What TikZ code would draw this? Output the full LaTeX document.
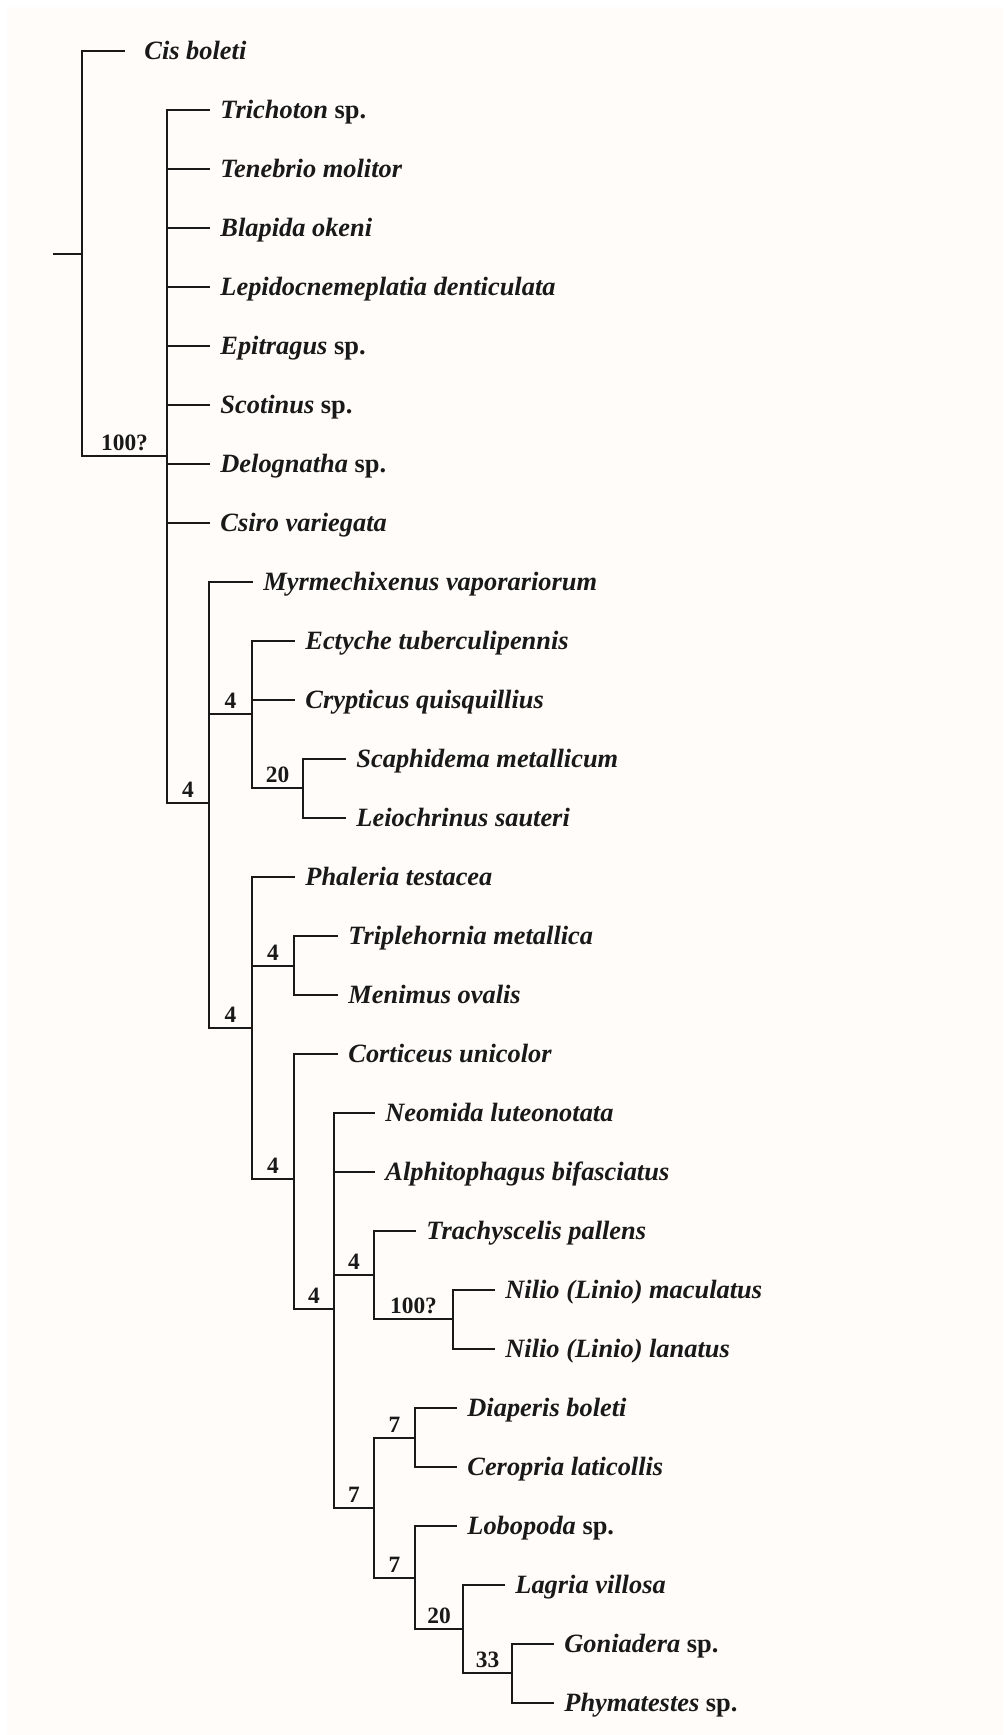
\documentclass[tikz,border=0pt]{standalone}
\usepackage{fontspec}
\setmainfont{Liberation Serif}
\usetikzlibrary{calc}
\definecolor{bg}{RGB}{255,252,249}
\definecolor{ink}{RGB}{25,25,25}
\begin{document}
\begin{tikzpicture}[x=0.5pt,y=-0.5pt,
  br/.style={draw=ink,line width=0.8pt,line cap=rect},
  taxon/.style={anchor=base west,inner sep=0pt,font=\fontsize{13.2pt}{15pt}\selectfont\bfseries\itshape,text=ink},
  blabel/.style={anchor=base,inner sep=0pt,font=\fontsize{11.7pt}{13pt}\selectfont\bfseries,text=ink}]
\fill[white] (0,0) rectangle (1003,1735);
\fill[bg] (7,7) rectangle (1003,1735);
\useasboundingbox (0,0) rectangle (1003,1735);
% internal nodes
\coordinate (r) at (54,254);
\coordinate (n0) at (82,254);
\coordinate (n1) at (167,456);
\coordinate (n2) at (209,803);
\coordinate (n3) at (252,714);
\coordinate (n4) at (303,788);
\coordinate (n5) at (252,1028);
\coordinate (n6) at (294,966);
\coordinate (n7) at (294,1179);
\coordinate (n8) at (334,1309);
\coordinate (n9) at (374,1275);
\coordinate (n10) at (453,1319);
\coordinate (n11) at (374,1508);
\coordinate (n12) at (415,1438);
\coordinate (n13) at (415,1578);
\coordinate (n14) at (463,1629);
\coordinate (n15) at (512,1673);
% leaf tips
\coordinate (l0) at (124,51);
\coordinate (l1) at (209,110);
\coordinate (l2) at (209,169);
\coordinate (l3) at (209,228);
\coordinate (l4) at (209,287);
\coordinate (l5) at (209,346);
\coordinate (l6) at (209,405);
\coordinate (l7) at (209,464);
\coordinate (l8) at (209,523);
\coordinate (l9) at (252,582);
\coordinate (l10) at (294,641);
\coordinate (l11) at (294,700);
\coordinate (l12) at (345,759);
\coordinate (l13) at (345,818);
\coordinate (l14) at (294,877);
\coordinate (l15) at (337,936);
\coordinate (l16) at (337,995);
\coordinate (l17) at (337,1054);
\coordinate (l18) at (374,1113);
\coordinate (l19) at (374,1172);
\coordinate (l20) at (415,1231);
\coordinate (l21) at (494,1290);
\coordinate (l22) at (494,1349);
\coordinate (l23) at (456,1408);
\coordinate (l24) at (456,1467);
\coordinate (l25) at (456,1526);
\coordinate (l26) at (504,1585);
\coordinate (l27) at (553,1644);
\coordinate (l28) at (553,1703);
% root stub
\draw[br] (r) -- (n0);
% verticals
\foreach \n/\a/\b in {n0/l0/n1, n1/l1/n2, n2/l9/n5, n3/l10/n4, n4/l12/l13, n5/l14/n7,
  n6/l15/l16, n7/l17/n8, n8/l18/n11, n9/l20/n10, n10/l21/l22, n11/n12/n13,
  n12/l23/l24, n13/l25/n14, n14/l26/n15, n15/l27/l28}
  \draw[br] (\n |- \a) -- (\n |- \b);
% stems to internal nodes
\foreach \p/\c in {n0/n1, n1/n2, n2/n3, n3/n4, n2/n5, n5/n6, n5/n7, n7/n8, n8/n9,
  n9/n10, n8/n11, n11/n12, n11/n13, n13/n14, n14/n15}
  \draw[br] (\c -| \p) -- (\c);
% leaf branches
\foreach \p/\l in {n0/l0, n1/l1, n1/l2, n1/l3, n1/l4, n1/l5, n1/l6, n1/l7, n1/l8,
  n2/l9, n3/l10, n3/l11, n4/l12, n4/l13, n5/l14, n6/l15, n6/l16, n7/l17,
  n8/l18, n8/l19, n9/l20, n10/l21, n10/l22, n12/l23, n12/l24, n13/l25,
  n14/l26, n15/l27, n15/l28}
  \draw[br] (\l -| \p) -- (\l);
% support labels
\foreach \p/\c/\t in {n0/n1/100?, n1/n2/4, n2/n3/4, n3/n4/20, n2/n5/4, n5/n6/4,
  n5/n7/4, n7/n8/4, n8/n9/4, n9/n10/100?, n8/n11/7, n11/n12/7, n11/n13/7,
  n13/n14/20, n14/n15/33}
  \node[blabel,yshift=3pt] (lab\c) at ($(\c -| \p)!0.5!(\c)$) {\t};
% taxa
\node[taxon] (t0) at ([xshift=10pt,yshift=-4pt]l0) {Cis boleti};
\node[taxon] (t1) at ([xshift=5.5pt,yshift=-4pt]l1) {Trichoton \textup{sp.}};
\node[taxon] (t2) at ([xshift=5.5pt,yshift=-4pt]l2) {Tenebrio molitor};
\node[taxon] (t3) at ([xshift=5.5pt,yshift=-4pt]l3) {Blapida okeni};
\node[taxon] (t4) at ([xshift=5.5pt,yshift=-4pt]l4) {Lepidocnemeplatia denticulata};
\node[taxon] (t5) at ([xshift=5.5pt,yshift=-4pt]l5) {Epitragus \textup{sp.}};
\node[taxon] (t6) at ([xshift=5.5pt,yshift=-4pt]l6) {Scotinus \textup{sp.}};
\node[taxon] (t7) at ([xshift=5.5pt,yshift=-4pt]l7) {Delognatha \textup{sp.}};
\node[taxon] (t8) at ([xshift=5.5pt,yshift=-4pt]l8) {Csiro variegata};
\node[taxon] (t9) at ([xshift=5.5pt,yshift=-4pt]l9) {Myrmechixenus vaporariorum};
\node[taxon] (t10) at ([xshift=5.5pt,yshift=-4pt]l10) {Ectyche tuberculipennis};
\node[taxon] (t11) at ([xshift=5.5pt,yshift=-4pt]l11) {Crypticus quisquillius};
\node[taxon] (t12) at ([xshift=5.5pt,yshift=-4pt]l12) {Scaphidema metallicum};
\node[taxon] (t13) at ([xshift=5.5pt,yshift=-4pt]l13) {Leiochrinus sauteri};
\node[taxon] (t14) at ([xshift=5.5pt,yshift=-4pt]l14) {Phaleria testacea};
\node[taxon] (t15) at ([xshift=5.5pt,yshift=-4pt]l15) {Triplehornia metallica};
\node[taxon] (t16) at ([xshift=5.5pt,yshift=-4pt]l16) {Menimus ovalis};
\node[taxon] (t17) at ([xshift=5.5pt,yshift=-4pt]l17) {Corticeus unicolor};
\node[taxon] (t18) at ([xshift=5.5pt,yshift=-4pt]l18) {Neomida luteonotata};
\node[taxon] (t19) at ([xshift=5.5pt,yshift=-4pt]l19) {Alphitophagus bifasciatus};
\node[taxon] (t20) at ([xshift=5.5pt,yshift=-4pt]l20) {Trachyscelis pallens};
\node[taxon] (t21) at ([xshift=5.5pt,yshift=-4pt]l21) {Nilio (Linio) maculatus};
\node[taxon] (t22) at ([xshift=5.5pt,yshift=-4pt]l22) {Nilio (Linio) lanatus};
\node[taxon] (t23) at ([xshift=5.5pt,yshift=-4pt]l23) {Diaperis boleti};
\node[taxon] (t24) at ([xshift=5.5pt,yshift=-4pt]l24) {Ceropria laticollis};
\node[taxon] (t25) at ([xshift=5.5pt,yshift=-4pt]l25) {Lobopoda \textup{sp.}};
\node[taxon] (t26) at ([xshift=5.5pt,yshift=-4pt]l26) {Lagria villosa};
\node[taxon] (t27) at ([xshift=5.5pt,yshift=-4pt]l27) {Goniadera \textup{sp.}};
\node[taxon] (t28) at ([xshift=5.5pt,yshift=-4pt]l28) {Phymatestes \textup{sp.}};
\end{tikzpicture}
\end{document}
